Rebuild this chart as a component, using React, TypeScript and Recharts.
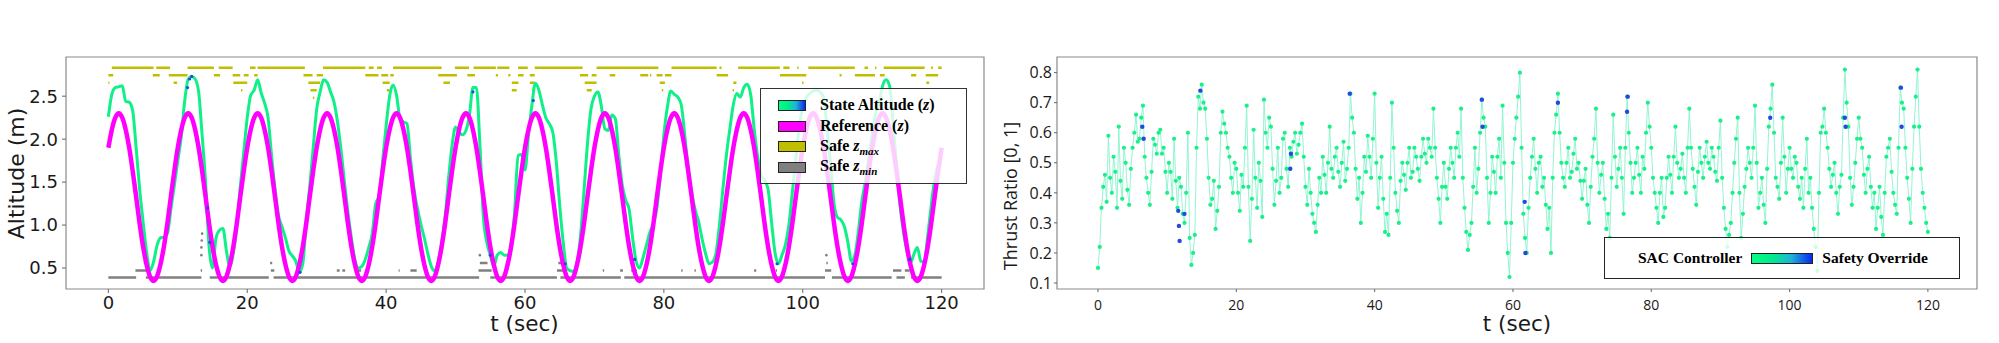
import React from 'react';
import { ComposedChart, Line, Scatter, XAxis, YAxis, ReferenceArea } from 'recharts';

// altitude samples every 0.5 s, thrust samples every 0.25 s, t = 0 .. 120
const STEP = 0.5;
const THRUST_STEP = 0.25;
const T_TICKS = [0, 20, 40, 60, 80, 100, 120];
const ALT_TICKS = [0.5, 1.0, 1.5, 2.0, 2.5];
const THRUST_TICKS = [0.1, 0.2, 0.3, 0.4, 0.5, 0.6, 0.7, 0.8];

// reference altitude (magenta)
const REF_Z = [
  1.90, 2.11, 2.25, 2.30, 2.25, 2.11, 1.90, 1.63, 1.33, 1.02, 0.75, 0.54, 0.40, 0.35, 0.40, 0.54, 0.75, 1.02, 1.33, 1.63,
  1.90, 2.11, 2.25, 2.30, 2.25, 2.11, 1.90, 1.63, 1.33, 1.02, 0.75, 0.54, 0.40, 0.35, 0.40, 0.54, 0.75, 1.02, 1.33, 1.63,
  1.90, 2.11, 2.25, 2.30, 2.25, 2.11, 1.90, 1.63, 1.33, 1.02, 0.75, 0.54, 0.40, 0.35, 0.40, 0.54, 0.75, 1.02, 1.33, 1.63,
  1.90, 2.11, 2.25, 2.30, 2.25, 2.11, 1.90, 1.63, 1.33, 1.02, 0.75, 0.54, 0.40, 0.35, 0.40, 0.54, 0.75, 1.02, 1.33, 1.63,
  1.90, 2.11, 2.25, 2.30, 2.25, 2.11, 1.90, 1.63, 1.33, 1.02, 0.75, 0.54, 0.40, 0.35, 0.40, 0.54, 0.75, 1.02, 1.33, 1.63,
  1.90, 2.11, 2.25, 2.30, 2.25, 2.11, 1.90, 1.63, 1.33, 1.02, 0.75, 0.54, 0.40, 0.35, 0.40, 0.54, 0.75, 1.02, 1.33, 1.63,
  1.90, 2.11, 2.25, 2.30, 2.25, 2.11, 1.90, 1.63, 1.33, 1.02, 0.75, 0.54, 0.40, 0.35, 0.40, 0.54, 0.75, 1.02, 1.33, 1.63,
  1.90, 2.11, 2.25, 2.30, 2.25, 2.11, 1.90, 1.63, 1.33, 1.02, 0.75, 0.54, 0.40, 0.35, 0.40, 0.54, 0.75, 1.02, 1.33, 1.63,
  1.90, 2.11, 2.25, 2.30, 2.25, 2.11, 1.90, 1.63, 1.33, 1.02, 0.75, 0.54, 0.40, 0.35, 0.40, 0.54, 0.75, 1.02, 1.33, 1.63,
  1.90, 2.11, 2.25, 2.30, 2.25, 2.11, 1.90, 1.63, 1.33, 1.02, 0.75, 0.54, 0.40, 0.35, 0.40, 0.54, 0.75, 1.02, 1.33, 1.63,
  1.90, 2.11, 2.25, 2.30, 2.25, 2.11, 1.90, 1.63, 1.33, 1.02, 0.75, 0.54, 0.40, 0.35, 0.40, 0.54, 0.75, 1.02, 1.33, 1.63,
  1.90, 2.11, 2.25, 2.30, 2.25, 2.11, 1.90, 1.63, 1.33, 1.02, 0.75, 0.54, 0.40, 0.35, 0.40, 0.54, 0.75, 1.02, 1.33, 1.63,
  1.90,
];

// measured state altitude (green)
const ALT_Z = [
  2.26, 2.52, 2.60, 2.61, 2.62, 2.44, 2.43, 2.33, 1.90, 1.42,
  1.04, 0.69, 0.47, 0.57, 0.76, 0.85, 0.86, 0.90, 1.18, 1.46,
  1.75, 2.03, 2.45, 2.70, 2.73, 2.70, 2.55, 2.05, 1.50, 0.75,
  0.50, 0.85, 0.94, 0.96, 0.70, 0.52, 0.68, 1.00, 1.45, 1.85,
  2.25, 2.51, 2.57, 2.69, 2.54, 2.42, 2.25, 1.81, 1.42, 1.11,
  0.98, 0.85, 0.70, 0.64, 0.58, 0.45, 0.55, 1.05, 1.45, 1.90,
  2.35, 2.55, 2.69, 2.66, 2.55, 2.43, 2.20, 1.88, 1.50, 1.15,
  0.85, 0.60, 0.50, 0.52, 0.60, 0.74, 0.90, 1.25, 1.34, 1.75,
  2.15, 2.50, 2.63, 2.51, 2.24, 2.20, 2.18, 1.78, 1.43, 1.20,
  1.01, 0.85, 0.67, 0.52, 0.47, 0.57, 0.80, 1.10, 1.55, 1.93,
  2.14, 2.08, 2.05, 2.10, 2.28, 2.60, 2.60, 1.95, 1.10, 0.80,
  0.65, 0.52, 0.65, 0.68, 0.65, 0.65, 0.76, 1.15, 1.81, 1.82,
  1.64, 2.05, 2.40, 2.65, 2.57, 2.40, 2.25, 2.18, 2.08, 1.74,
  1.23, 0.80, 0.50, 0.47, 0.46, 0.57, 0.88, 1.40, 1.95, 2.35,
  2.50, 2.55, 2.38, 2.12, 2.10, 2.28, 2.24, 1.82, 1.47, 1.29,
  1.18, 0.85, 0.58, 0.50, 0.62, 0.77, 0.92, 1.02, 1.20, 1.60,
  2.05, 2.37, 2.56, 2.52, 2.49, 2.40, 2.05, 1.65, 1.38, 1.18,
  1.04, 0.84, 0.67, 0.55, 0.57, 0.67, 1.00, 1.42, 1.81, 2.12,
  2.40, 2.53, 2.49, 2.60, 2.64, 2.52, 2.12, 1.80, 1.58, 1.52,
  1.42, 1.04, 0.68, 0.55, 0.65, 0.77, 1.00, 1.38, 1.77, 2.15,
  2.38, 2.48, 2.53, 2.56, 2.57, 2.55, 2.48, 2.12, 1.72, 1.25,
  1.09, 1.06, 0.98, 0.80, 0.58, 0.65, 0.92, 1.27, 1.50, 1.78,
  2.06, 2.30, 2.42, 2.62, 2.69, 2.62, 2.20, 1.70, 1.23, 0.92,
  0.70, 0.56, 0.66, 0.74, 0.58, 0.57, 0.88, 1.23, 1.54, 1.70,
  1.72,
];

// points where the safety layer overrode (blue)
const ALT_OVR_T = [11.4, 11.7, 12.0, 14.3, 14.6, 27.6, 52.5, 55.0, 61.2, 65.8, 75.8, 96.3, 107.2, 115.4];
const ALT_OVR_Z = [2.60, 2.70, 2.73, 1.20, 0.80, 0.45, 2.55, 0.65, 2.45, 0.55, 0.60, 0.55, 0.55, 0.60];

// safe z_max rows: [t start, t end]
const ZMAX_LEVELS = [2.83, 2.745, 2.655, 2.57, 2.48];
const ZMAX_ROW1 = [[0.5, 6.5], [6.9, 8.9], [11.4, 15.2], [15.9, 17.9], [20.4, 21.2], [21.5, 28.3], [30.9, 37.0], [37.5, 38.2], [38.7, 39.4], [41.0, 48.0], [49.9, 51.95], [52.6, 55.8], [56.0, 57.75], [59.0, 60.4], [61.4, 68.3], [70.3, 79.2], [81.1, 87.6], [88.0, 88.3], [90.7, 96.7], [97.2, 98.1], [99.2, 99.4], [100.8, 107.5], [108.9, 109.4], [110.4, 110.6], [111.65, 117.55], [118.5, 118.75], [119.5, 120]];
const ZMAX_ROW2 = [[0, 0.7], [6.4, 7.4], [8.7, 11.4], [15.2, 16.1], [17.9, 19.0], [19.5, 20.2], [21.0, 21.5], [28.1, 29.4], [30.0, 30.9], [37.0, 38.9], [39.3, 40.3], [40.6, 41.1], [47.5, 50.2], [51.7, 52.8], [55.8, 56.1], [57.6, 57.9], [59.0, 59.8], [60.7, 61.4], [67.9, 69.1], [69.6, 70.3], [72.2, 73.0], [76.6, 77.75], [78.0, 78.2], [78.95, 79.8], [80.15, 81.1], [87.6, 89.25], [96.7, 100.5], [105.3, 105.6], [107.5, 110.4], [111.1, 111.8], [115.6, 116.35], [117.7, 119.5]];
const ZMAX_ROW3 = [[0, 0.15], [9.4, 9.9], [18.0, 20.0], [28.8, 30.5], [39.5, 40.5], [48.25, 49.2], [58.1, 59.05], [60.7, 61.4], [68.6, 70.3], [79.4, 80.15], [90.0, 90.45], [99.9, 100.1], [117.8, 118.2]];
const ZMAX_ROW4 = [[19.1, 19.3], [29.1, 30.0], [40.1, 40.5], [58.1, 58.8], [61.0, 61.4], [68.9, 69.6], [79.7, 79.9], [89.9, 90.1]];
const ZMAX_ROW5 = [[29.45, 29.65]];

// safe z_min rows
const ZMIN_LEVELS = [0.39, 0.47, 0.56];
const ZMIN_ROW1 = [[0, 4.0], [5.4, 13.4], [14.6, 23.1], [23.8, 53.4], [55.0, 64.6], [65.1, 73.8], [74.3, 103.2], [104.2, 112.8], [113.5, 114.7], [115.6, 120]];
const ZMIN_ROW2 = [[3.9, 5.5], [13.3, 13.5], [23.4, 23.9], [32.9, 33.3], [33.7, 34.1], [35.9, 36.4], [41.8, 41.95], [43.5, 44.4], [53.3, 55.2], [64.6, 65.8], [71.2, 71.4], [73.7, 74.1], [75.3, 76.1], [82.5, 82.7], [84.4, 84.6], [93.0, 93.3], [96.1, 96.3], [103.2, 104.1], [113.0, 114.2], [114.7, 115.4]];
const ZMIN_ROW3 = [[5.1, 5.4], [23.3, 23.6], [53.5, 54.6], [64.8, 65.6], [103.4, 103.6]];
const ZMIN_PTS_T = [13.4, 13.4, 13.45, 13.5, 53.5, 103.4];
const ZMIN_PTS_Z = [0.65, 0.74, 0.82, 0.90, 0.65, 0.65];

// thrust ratio, 20 samples per row = 5 s
const THRUST = [
  0.15, 0.22, 0.35, 0.42, 0.46, 0.37, 0.59, 0.45, 0.40, 0.52, 0.47, 0.35, 0.62, 0.44, 0.38, 0.55, 0.50, 0.41, 0.36, 0.48,
  0.55, 0.60, 0.66, 0.57, 0.58, 0.65, 0.69, 0.52, 0.45, 0.40, 0.36, 0.47, 0.58, 0.56, 0.53, 0.60, 0.61, 0.53, 0.55, 0.47,
  0.40, 0.50, 0.47, 0.38, 0.58, 0.44, 0.35, 0.45, 0.42, 0.33, 0.30, 0.40, 0.60, 0.25, 0.16, 0.20, 0.26, 0.55, 0.72, 0.68,
  0.76, 0.70, 0.68, 0.58, 0.45, 0.36, 0.38, 0.44, 0.28, 0.34, 0.42, 0.60, 0.67, 0.63, 0.60, 0.55, 0.52, 0.45, 0.40, 0.50,
  0.48, 0.40, 0.34, 0.46, 0.42, 0.55, 0.69, 0.42, 0.24, 0.38, 0.61, 0.45, 0.35, 0.50, 0.44, 0.32, 0.71, 0.60, 0.55, 0.65,
  0.62, 0.48, 0.36, 0.44, 0.55, 0.40, 0.45, 0.58, 0.60, 0.48, 0.42, 0.55, 0.52, 0.57, 0.60, 0.53, 0.56, 0.60, 0.63, 0.52,
  0.42, 0.36, 0.48, 0.40, 0.33, 0.30, 0.27, 0.36, 0.45, 0.40, 0.52, 0.46, 0.40, 0.50, 0.62, 0.48, 0.45, 0.52, 0.55, 0.47,
  0.42, 0.50, 0.57, 0.44, 0.48, 0.55, 0.73, 0.65, 0.60, 0.48, 0.38, 0.45, 0.30, 0.40, 0.52, 0.47, 0.59, 0.52, 0.45, 0.58,
  0.73, 0.50, 0.35, 0.45, 0.52, 0.38, 0.27, 0.33, 0.26, 0.45, 0.70, 0.55, 0.40, 0.34, 0.30, 0.44, 0.50, 0.46, 0.41, 0.50,
  0.55, 0.45, 0.47, 0.55, 0.52, 0.48, 0.44, 0.52, 0.58, 0.53, 0.50, 0.58, 0.55, 0.52, 0.68, 0.55, 0.45, 0.38, 0.30, 0.42,
  0.50, 0.42, 0.38, 0.48, 0.55, 0.50, 0.45, 0.55, 0.60, 0.52, 0.68, 0.45, 0.35, 0.27, 0.21, 0.26, 0.30, 0.42, 0.55, 0.40,
  0.48, 0.60, 0.71, 0.65, 0.62, 0.45, 0.30, 0.40, 0.52, 0.47, 0.40, 0.52, 0.58, 0.45, 0.69, 0.50, 0.30, 0.20, 0.12, 0.30,
  0.50, 0.58, 0.65, 0.72, 0.80, 0.55, 0.33, 0.25, 0.20, 0.35, 0.45, 0.52, 0.58, 0.48, 0.40, 0.50, 0.52, 0.42, 0.45, 0.36,
  0.28, 0.35, 0.20, 0.45, 0.60, 0.66, 0.73, 0.60, 0.50, 0.45, 0.42, 0.50, 0.55, 0.45, 0.47, 0.53, 0.58, 0.48, 0.50, 0.44,
  0.38, 0.44, 0.48, 0.36, 0.30, 0.42, 0.52, 0.58, 0.68, 0.50, 0.40, 0.46, 0.50, 0.38, 0.28, 0.33, 0.25, 0.45, 0.66, 0.52,
  0.42, 0.48, 0.55, 0.45, 0.33, 0.55, 0.72, 0.60, 0.50, 0.40, 0.45, 0.50, 0.55, 0.46, 0.40, 0.52, 0.48, 0.60, 0.70, 0.62,
  0.55, 0.45, 0.40, 0.35, 0.30, 0.40, 0.45, 0.32, 0.35, 0.45, 0.52, 0.46, 0.40, 0.52, 0.62, 0.50, 0.45, 0.48, 0.53, 0.45,
  0.40, 0.55, 0.68, 0.55, 0.48, 0.42, 0.36, 0.47, 0.55, 0.50, 0.45, 0.52, 0.57, 0.50, 0.48, 0.55, 0.52, 0.47, 0.44, 0.55,
  0.64, 0.45, 0.35, 0.28, 0.22, 0.26, 0.30, 0.40, 0.50, 0.58, 0.65, 0.40, 0.25, 0.33, 0.42, 0.48, 0.55, 0.50, 0.45, 0.55,
  0.69, 0.50, 0.35, 0.40, 0.45, 0.36, 0.30, 0.48, 0.62, 0.68, 0.76, 0.60, 0.45, 0.42, 0.38, 0.50, 0.65, 0.52, 0.40, 0.48,
  0.55, 0.48, 0.45, 0.52, 0.50, 0.42, 0.38, 0.45, 0.35, 0.48, 0.58, 0.40, 0.45, 0.35, 0.28, 0.22, 0.14, 0.40, 0.60, 0.62,
  0.68, 0.60, 0.55, 0.48, 0.42, 0.46, 0.50, 0.40, 0.33, 0.42, 0.46, 0.65, 0.81, 0.70, 0.62, 0.45, 0.36, 0.42, 0.50, 0.58,
  0.65, 0.58, 0.55, 0.46, 0.40, 0.48, 0.52, 0.42, 0.35, 0.40, 0.28, 0.35, 0.42, 0.32, 0.26, 0.40, 0.52, 0.55, 0.58, 0.47,
  0.40, 0.36, 0.33, 0.55, 0.75, 0.70, 0.68, 0.55, 0.45, 0.38, 0.30, 0.48, 0.62, 0.72, 0.81, 0.62, 0.48, 0.40, 0.35, 0.30,
  0.27,
];
const OVR_T = [6.4, 6.6, 11.6, 11.7, 11.8, 12.5, 14.8, 27.8, 27.9, 36.4, 55.5, 55.6, 61.7, 61.8, 66.5, 76.5, 76.6, 97.2, 108.0, 108.1, 116.1, 116.2];
const OVR_V = [0.62, 0.58, 0.34, 0.29, 0.24, 0.33, 0.74, 0.48, 0.53, 0.73, 0.71, 0.62, 0.37, 0.20, 0.70, 0.67, 0.72, 0.65, 0.65, 0.62, 0.75, 0.62];

const GREEN = '#0ff088';
const BLUE = '#2448e0';
const OLIVE = '#bfbf00';
const GREY = '#808080';
const WINTER = 'linear-gradient(90deg, #00ff80 0%, #00ea8e 35%, #1fb4d6 65%, #0a28f0 100%)';

const altData = REF_Z.map((r, i) => ({ t: i * STEP, ref: r, alt: ALT_Z[i] }));
const thrustData = THRUST.map((v, i) => ({ t: i * THRUST_STEP, v }));
const altOvr = ALT_OVR_T.map((t, i) => ({ t, v: ALT_OVR_Z[i] }));
const thrustOvr = OVR_T.map((t, i) => ({ t, v: OVR_V[i] }));
const zminPts = ZMIN_PTS_T.map((t, i) => ({ t, v: ZMIN_PTS_Z[i] }));

// turn [start, end] segments into a broken line
const segLine = (segs: number[][], z: number) =>
  segs.flatMap(([a, b]) => [{ t: a, v: z }, { t: b, v: z }, { t: b, v: null }]);

const dotShape = (color: string, r: number) => (p: any) =>
  <circle cx={p.cx} cy={p.cy} r={r} fill={color} />;

const sans = 'DejaVu Sans, sans-serif';
const serif = 'Liberation Serif, Times New Roman, serif';

const Swatch = ({ bg, w = 28 }: { bg: string; w?: number }) => (
  <div style={{ width: w, height: 11, background: bg, border: '1px solid #222', boxSizing: 'border-box' }} />
);

const Sub = ({ base, sub }: { base: string; sub: string }) => (
  <span>Safe <i>{base}</i><i style={{ fontSize: 11, verticalAlign: -4, lineHeight: 1 }}>{sub}</i></span>
);

const AltLegend = () => {
  const rows: [string, React.ReactNode][] = [
    [WINTER, <span>State Altitude (<i>z</i>)</span>],
    ['#ff00ff', <span>Reference (<i>z</i>)</span>],
    [OLIVE, <Sub base="z" sub="max" />],
    [GREY, <Sub base="z" sub="min" />],
  ];
  return (
    <div style={{
      position: 'absolute', left: 760, top: 88, width: 207, height: 96, boxSizing: 'border-box',
      border: '1.3px solid #333', background: 'rgba(255,255,255,0.8)', paddingTop: 6,
    }}>
      {rows.map(([bg, label], i) => (
        <div key={i} style={{ display: 'flex', alignItems: 'center', height: 20.7 }}>
          <div style={{ marginLeft: 17, marginRight: 14 }}><Swatch bg={bg} /></div>
          <div style={{ fontFamily: serif, fontWeight: 'bold', fontSize: 16, lineHeight: '18px', color: '#000', whiteSpace: 'nowrap' }}>{label}</div>
        </div>
      ))}
    </div>
  );
};

const ThrustLegend = () => (
  <div style={{
    position: 'absolute', left: 1604, top: 237, width: 356, height: 42, boxSizing: 'border-box',
    border: '1.3px solid #222', background: 'rgba(255,255,255,0.8)',
    display: 'flex', alignItems: 'center', fontFamily: serif, fontWeight: 'bold', fontSize: 15.5, color: '#000',
  }}>
    <span style={{ marginLeft: 33 }}>SAC Controller</span>
    <div style={{ marginLeft: 9, marginRight: 9 }}><Swatch bg={WINTER} w={62} /></div>
    <span>Safety Override</span>
  </div>
);

const App = () => (
  <div style={{ position: 'absolute', left: 0, top: 0, width: 1999, height: 343, background: '#fff', overflow: 'hidden' }}>
    <div style={{ position: 'absolute', left: 0, top: 0 }}>
      <ComposedChart width={995} height={343} data={altData} margin={{ top: 57, right: 11, bottom: 0, left: 1 }}>
        <XAxis
          type="number" dataKey="t" domain={[-6.1, 126.1]} ticks={T_TICKS} allowDataOverflow
          height={54} axisLine={false} tickSize={4} tickMargin={3}
          tickLine={{ stroke: '#666' }} tick={{ fontSize: 18, fill: '#1a1a1a', fontFamily: sans }}
          label={() => (
            <text x={524.5} y={331} textAnchor="middle" fontFamily={sans} fontSize={21.5} fill="#1a1a1a">t (sec)</text>
          )}
        />
        <YAxis
          type="number" domain={[0.256, 2.956]} ticks={ALT_TICKS} allowDataOverflow width={65}
          axisLine={false} tickSize={4} tickMargin={4} tickFormatter={(v: number) => v.toFixed(1)}
          tickLine={{ stroke: '#666' }} tick={{ fontSize: 18, fill: '#1a1a1a', fontFamily: sans }}
          label={() => (
            <text x={16} y={173.5} transform="rotate(-90 16 173.5)" textAnchor="middle" dominantBaseline="central"
              fontFamily={sans} fontSize={22} fill="#1a1a1a">Altitude (m)</text>
          )}
        />
        <Line data={segLine(ZMAX_ROW1, ZMAX_LEVELS[0])} dataKey="v" stroke={OLIVE} strokeWidth={2.5} dot={false} isAnimationActive={false} />
        <Line data={segLine(ZMAX_ROW2, ZMAX_LEVELS[1])} dataKey="v" stroke={OLIVE} strokeWidth={2.5} dot={false} isAnimationActive={false} />
        <Line data={segLine(ZMAX_ROW3, ZMAX_LEVELS[2])} dataKey="v" stroke={OLIVE} strokeWidth={2.5} dot={false} isAnimationActive={false} />
        <Line data={segLine(ZMAX_ROW4, ZMAX_LEVELS[3])} dataKey="v" stroke={OLIVE} strokeWidth={2.5} dot={false} isAnimationActive={false} />
        <Line data={segLine(ZMAX_ROW5, ZMAX_LEVELS[4])} dataKey="v" stroke={OLIVE} strokeWidth={2.5} dot={false} isAnimationActive={false} />
        <Line data={segLine(ZMIN_ROW1, ZMIN_LEVELS[0])} dataKey="v" stroke={GREY} strokeWidth={2.5} dot={false} isAnimationActive={false} />
        <Line data={segLine(ZMIN_ROW2, ZMIN_LEVELS[1])} dataKey="v" stroke={GREY} strokeWidth={2.5} dot={false} isAnimationActive={false} />
        <Line data={segLine(ZMIN_ROW3, ZMIN_LEVELS[2])} dataKey="v" stroke={GREY} strokeWidth={2.5} dot={false} isAnimationActive={false} />
        <Scatter data={zminPts} dataKey="v" shape={dotShape(GREY, 1.3)} isAnimationActive={false} />
        <Line dataKey="alt" type="monotone" stroke={GREEN} strokeWidth={3} dot={false} isAnimationActive={false} />
        <Scatter data={altOvr} dataKey="v" shape={dotShape(BLUE, 1.6)} isAnimationActive={false} />
        <Line dataKey="ref" type="monotone" stroke="#ff00ff" strokeWidth={4.5} dot={false} isAnimationActive={false} />
        <ReferenceArea x1={-6.1} x2={126.1} y1={0.256} y2={2.956} fill="none" stroke="#8a8a8a" strokeWidth={1.2} ifOverflow="visible" />
      </ComposedChart>
    </div>
    <div style={{ position: 'absolute', left: 990, top: 0 }}>
      <ComposedChart width={1009} height={343} data={thrustData} margin={{ top: 57, right: 22, bottom: 0, left: 0 }}>
        <XAxis
          type="number" dataKey="t" domain={[-5.93, 127.1]} ticks={T_TICKS} allowDataOverflow
          height={54} axisLine={false} tickSize={3} tickMargin={8}
          tickLine={{ stroke: '#666' }} tick={{ fontSize: 14, fill: '#1a1a1a', fontFamily: 'Open Sans' }}
          label={() => (
            <text x={527} y={331} textAnchor="middle" fontFamily={sans} fontSize={21.5} fill="#1a1a1a">t (sec)</text>
          )}
        />
        <YAxis
          type="number" domain={[0.08, 0.852]} ticks={THRUST_TICKS} allowDataOverflow width={67}
          axisLine={false} tickSize={3} tickMargin={2} tickFormatter={(v: number) => v.toFixed(1)}
          tickLine={{ stroke: '#666' }} tick={{ fontSize: 16, fill: '#1a1a1a', fontFamily: 'Open Sans' }}
          label={() => (
            <text x={20} y={196} transform="rotate(-90 20 196)" textAnchor="middle" dominantBaseline="central"
              fontFamily="Open Sans" fontSize={18} fill="#1a1a1a">Thrust Ratio [0, 1]</text>
          )}
        />
        <Line dataKey="v" type="linear" stroke="#93f5d2" strokeWidth={1}
          dot={{ r: 2.1, fill: '#19f08a', stroke: 'none' }} isAnimationActive={false} />
        <Scatter data={thrustOvr} dataKey="v" shape={dotShape(BLUE, 2.2)} isAnimationActive={false} />
        <ReferenceArea x1={-5.93} x2={127.1} y1={0.08} y2={0.852} fill="none" stroke="#8a8a8a" strokeWidth={1.2} ifOverflow="visible" />
      </ComposedChart>
    </div>
    <AltLegend />
    <ThrustLegend />
  </div>
);

export default App;
